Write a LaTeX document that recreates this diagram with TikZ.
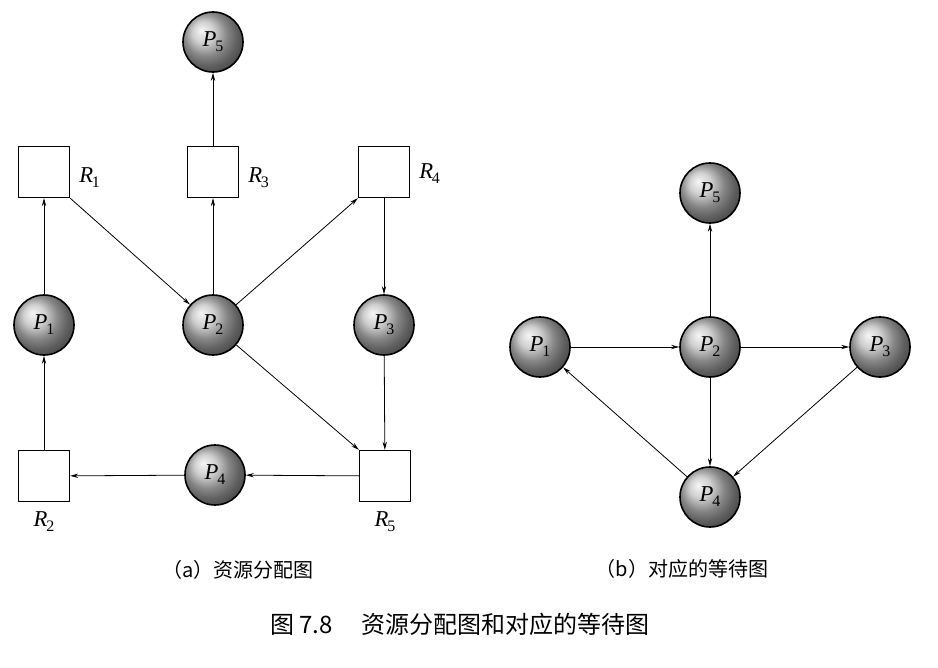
\documentclass[tikz,border=0pt]{standalone}
\usepackage{fontspec}
\newfontfamily\cjk{Noto Sans CJK SC}
\newfontfamily\tnr{Liberation Serif}
\usetikzlibrary{arrows.meta}
\newcommand{\lbl}[2]{{\tnr\itshape #1}\kern-0.05em\raisebox{-0.22em}{\tnr\fontsize{12}{12}\selectfont #2}}
\begin{document}
\begin{tikzpicture}[x=0.75pt,y=-0.75pt,
  proc/.style={circle,draw=black,line width=1.2pt,ball color=gray!50,minimum size=45pt,inner sep=0pt,font=\fontsize{17}{17}\selectfont},
  res/.style={rectangle,draw=black,line width=1.2pt,fill=white,minimum size=38pt,inner sep=0pt},
  rlab/.style={font=\fontsize{17}{17}\selectfont,inner sep=0pt},
  conn/.style={line width=0.6pt,-{Stealth[length=6pt,width=3.2pt]}},
  captxt/.style={font=\cjk\fontsize{15}{15}\selectfont,inner sep=0pt}]
\useasboundingbox (0,0) rectangle (938,667);
% left graph
\node[proc] (aP5) at (213,42) {\lbl{P}{5}};
\node[res] (R1) at (44,172) {};
\node[res] (R3) at (213,172) {};
\node[res] (R4) at (384,172) {};
\node[proc] (aP1) at (44,325) {\lbl{P}{1}};
\node[proc] (aP2) at (213,325) {\lbl{P}{2}};
\node[proc] (aP3) at (384,325) {\lbl{P}{3}};
\node[res] (R2) at (44,476) {};
\node[proc] (aP4) at (215,475) {\lbl{P}{4}};
\node[res] (R5) at (385,476) {};
\node[rlab,anchor=west] (lR1) at (79,178) {\lbl{R}{1}};
\node[rlab,anchor=west] (lR3) at (248,178) {\lbl{R}{3}};
\node[rlab,anchor=west] (lR4) at (419,174) {\lbl{R}{4}};
\node[rlab] (lR2) at (44,522) {\lbl{R}{2}};
\node[rlab] (lR5) at (385,522) {\lbl{R}{5}};
\draw[conn] (R1.south east) -- (aP2);
\draw[conn] (aP2) -- (R3);
\draw[conn] (R3) -- (aP5);
\draw[conn] (aP2) -- (R4.south west);
\draw[conn] (R4) -- (aP3);
\draw[conn] (aP1) -- (R1);
\draw[conn] (R2) -- (aP1);
\draw[conn] (aP2) -- (R5.north west);
\draw[conn] (aP3) -- (R5);
\draw[conn] (R5) -- (aP4);
\draw[conn] (aP4) -- (R2);
% right graph
\node[proc] (bP5) at (710,193) {\lbl{P}{5}};
\node[proc] (bP1) at (540,347) {\lbl{P}{1}};
\node[proc] (bP2) at (710,347) {\lbl{P}{2}};
\node[proc] (bP3) at (880,347) {\lbl{P}{3}};
\node[proc] (bP4) at (710,497) {\lbl{P}{4}};
\draw[conn] (bP1) -- (bP2);
\draw[conn] (bP2) -- (bP3);
\draw[conn] (bP2) -- (bP5);
\draw[conn] (bP2) -- (bP4);
\draw[conn] (bP3) -- (bP4);
\draw[conn] (bP4) -- (bP1);
% captions
\node[captxt] (capa) at (238,570) {（a）资源分配图};
\node[captxt] (capb) at (682,569) {（b）对应的等待图};
\node[captxt,font=\cjk\fontsize{18}{18}\selectfont] (capm) at (460,624) {图 7.8\hspace{1.2em}资源分配图和对应的等待图};
\end{tikzpicture}
\end{document}
